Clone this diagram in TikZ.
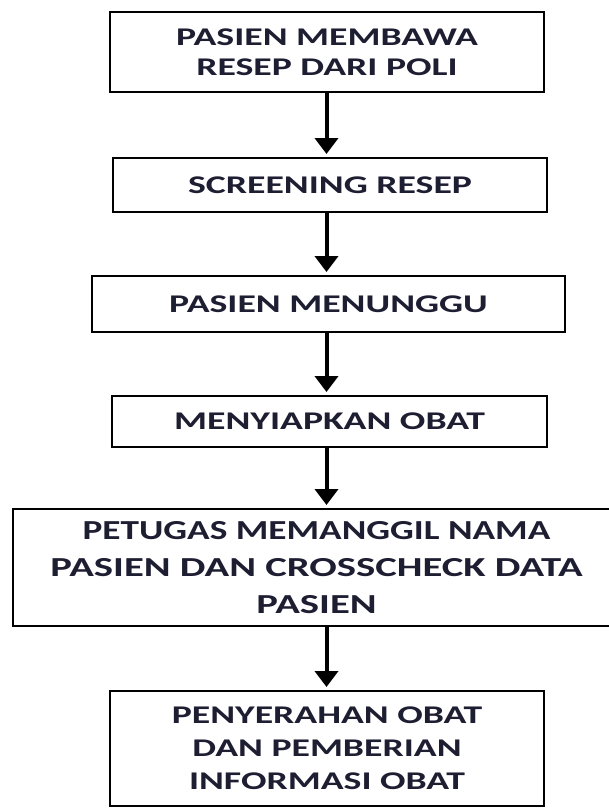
\documentclass[tikz,border=0pt]{standalone}
\usepackage{graphicx}
\usepackage{fontspec}
\setmainfont{Carlito}[FakeStretch=1.48]
\usetikzlibrary{arrows.meta}
\definecolor{txt}{HTML}{1E1E32}
\tikzset{
  box/.style={draw=black, line width=2pt, rectangle, inner sep=0pt, align=center,
    text=txt, font=\fontsize{25.5}{30}\selectfont\bfseries},
  arr/.style={line width=4pt, shorten >=3pt, -{Triangle[width=23pt,length=16pt]}}
}
\begin{document}
\begin{tikzpicture}[x=1pt,y=-1pt]
\useasboundingbox (0,0) rectangle (609,808);
\clip (0,0) rectangle (609,808);
\fill[white] (0,0) rectangle (609,808);
\coordinate (ax) at (326.5,0);
\node[box, minimum width=434pt, minimum height=80pt] (b1) at (327,52) {PASIEN MEMBAWA\\RESEP DARI POLI};
\node[box, minimum width=434pt, minimum height=54pt] (b2) at (330,185) {SCREENING RESEP};
\node[box, minimum width=473pt, minimum height=56pt] (b3) at (328.5,304) {PASIEN MENUNGGU};
\node[box, minimum width=435pt, minimum height=51pt] (b4) at (329.5,421.5) {MENYIAPKAN OBAT};
\node[box, minimum width=607pt, minimum height=117pt, font=\fontsize{27.5}{37}\selectfont\bfseries] (b5) at (316.5,567.5) {\scalebox{0.916}[1]{PETUGAS MEMANGGIL NAMA}\\PASIEN DAN CROSSCHECK DATA\\PASIEN};
\node[box, minimum width=434pt, minimum height=115pt, font=\fontsize{25.5}{33}\selectfont\bfseries] (b6) at (327,748.5) {PENYERAHAN OBAT\\DAN PEMBERIAN\\INFORMASI OBAT};
\draw[arr] (b1.south -| ax) -- (b2.north -| ax);
\draw[arr] (b2.south -| ax) -- (b3.north -| ax);
\draw[arr] (b3.south -| ax) -- (b4.north -| ax);
\draw[arr] (b4.south -| ax) -- (b5.north -| ax);
\draw[arr] (b5.south -| ax) -- (b6.north -| ax);
\end{tikzpicture}
\end{document}
